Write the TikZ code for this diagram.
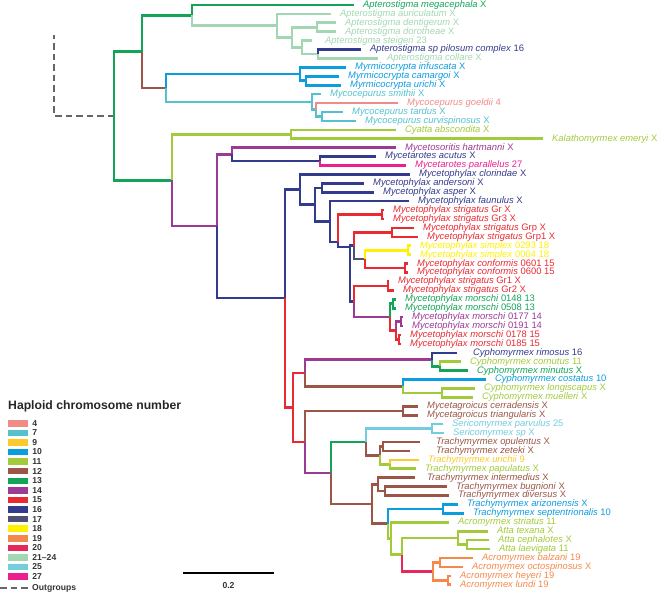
\documentclass[tikz,border=0pt]{standalone}
\usepackage{fontspec}
\setmainfont{Liberation Sans}
\usepackage{xcolor}
\usetikzlibrary{positioning}

\definecolor{c4}{HTML}{F08C87}
\definecolor{c7}{HTML}{55C1CE}
\definecolor{c9}{HTML}{FDC92C}
\definecolor{c10}{HTML}{0C9DDD}
\definecolor{c11}{HTML}{A2CB3C}
\definecolor{c12}{HTML}{9B5647}
\definecolor{c13}{HTML}{14A458}
\definecolor{c14}{HTML}{9C3A94}
\definecolor{c15}{HTML}{EA2A33}
\definecolor{c16}{HTML}{333B8C}
\definecolor{c17}{HTML}{505170}
\definecolor{c18}{HTML}{FFF100}
\definecolor{c19}{HTML}{F5894C}
\definecolor{c20}{HTML}{E4295A}
\definecolor{c21}{HTML}{A3D7B3}
\definecolor{c25}{HTML}{74CCDF}
\definecolor{c27}{HTML}{EC1F8E}
\definecolor{outg}{HTML}{666666}

\newcommand{\taxa}[2]{\textit{#1} #2}

\tikzset{
  br/.style={line width=2.6pt},
  lab/.style={anchor=west, xshift=-9pt, inner xsep=9pt, inner ysep=0pt,
    text height=6.7pt, text depth=1.9pt, font=\fontsize{9.4}{10}\selectfont},
  outgrp/.style={outg, line width=2.8pt, dash pattern=on 6.5pt off 4pt},
  swatch/.style={fill=#1, minimum width=20pt, minimum height=6.5pt, inner sep=0pt},
  keytext/.style={anchor=west, inner sep=0pt, text=black!80, font=\bfseries\fontsize{8.6}{9}\selectfont},
}

\begin{document}
\begin{tikzpicture}[x=1pt, y=-1pt]
\useasboundingbox (0,0) rectangle (657,593);

% inner nodes of the tree
\coordinate (root) at (114,116);
\coordinate (og) at (54,35);
\coordinate (apmy) at (142,51.7);
\coordinate (core) at (172,180.3);
\coordinate (apter) at (192,15.3);
\coordinate (myco) at (166,88);
\coordinate (ap1) at (277,25.6);
\coordinate (ap2) at (292,37.3);
\coordinate (ap3) at (317,27.3);
\coordinate (ap4) at (302,47.4);
\coordinate (ap5) at (318,54.1);
\coordinate (myrm) at (300,74.1);
\coordinate (myrm2) at (306,80.8);
\coordinate (mcep) at (312,102);
\coordinate (mcep2) at (316,109.8);
\coordinate (mcep3) at (322,116.5);
\coordinate (cyka) at (291,134.3);
\coordinate (neo) at (217,226.2);
\coordinate (myso) at (232,154.4);
\coordinate (mrot) at (320,161.1);
\coordinate (big) at (285,298);
\coordinate (mphy) at (300,189.6);
\coordinate (mphy2) at (315,204.8);
\coordinate (mphy3) at (322,187.9);
\coordinate (mphy4) at (330,221.6);
\coordinate (mphy5) at (338,242);
\coordinate (strig1) at (382,214.6);
\coordinate (mphy6) at (350,247);
\coordinate (mphy7) at (354,245.8);
\coordinate (strig2) at (392,232.5);
\coordinate (simco) at (365,259.2);
\coordinate (simp) at (408,250.3);
\coordinate (conf) at (405,268.1);
\coordinate (mphy8) at (354,301.6);
\coordinate (strig3) at (388,286);
\coordinate (mors) at (390,317.2);
\coordinate (mors1) at (393,303.8);
\coordinate (mors2) at (396,330.6);
\coordinate (mors3) at (401,321.7);
\coordinate (mors4) at (399,339.5);
\coordinate (high) at (293,407.5);
\coordinate (cyph) at (305,373);
\coordinate (cyph1) at (432,359.6);
\coordinate (cyph2) at (440,366.3);
\coordinate (cyph3) at (403,386.3);
\coordinate (cyph4) at (442,393);
\coordinate (hga) at (305,442);
\coordinate (magr) at (403,410.9);
\coordinate (hgb) at (331,473.1);
\coordinate (seri) at (366,442.1);
\coordinate (seri1) at (432,428.7);
\coordinate (trach1) at (380,455.5);
\coordinate (trach2) at (383,446.5);
\coordinate (trach3) at (390,464.4);
\coordinate (lca) at (372,504.1);
\coordinate (trach4) at (378,484.5);
\coordinate (trach5) at (385,491.1);
\coordinate (lcb) at (388,523.8);
\coordinate (trach6) at (443,509);
\coordinate (lcc) at (391,538.5);
\coordinate (lcd) at (402,554.7);
\coordinate (atta) at (458,538);
\coordinate (atta1) at (467,544.7);
\coordinate (acro) at (433,571.4);
\coordinate (acro1) at (440,562.5);
\coordinate (acro2) at (448,580.3);

% tips
\node[lab, text=c13] (megacephala) at (363,5.0) {\taxa{Apterostigma megacephala}{X}};
\node[lab, text=c21] (auriculatum) at (340,13.9) {\taxa{Apterostigma auriculatum}{X}};
\node[lab, text=c21] (dentigerum) at (345,22.8) {\taxa{Apterostigma dentigerum}{X}};
\node[lab, text=c21] (dorotheae) at (345,31.8) {\taxa{Apterostigma dorotheae}{X}};
\node[lab, text=c21] (steigeri) at (325,40.7) {\taxa{Apterostigma steigeri}{23}};
\node[lab, text=c16] (pilosum) at (370,49.6) {\taxa{Apterostigma sp pilosum complex}{16}};
\node[lab, text=c21] (collare) at (387,58.5) {\taxa{Apterostigma collare}{X}};
\node[lab, text=c10] (infuscata) at (355,67.4) {\taxa{Myrmicocrypta infuscata}{X}};
\node[lab, text=c10] (camargoi) at (348,76.4) {\taxa{Myrmicocrypta camargoi}{X}};
\node[lab, text=c10] (urichi) at (350,85.3) {\taxa{Myrmicocrypta urichi}{X}};
\node[lab, text=c7] (smithii) at (330,94.2) {\taxa{Mycocepurus smithii}{X}};
\node[lab, text=c4] (goeldii) at (407,103.1) {\taxa{Mycocepurus goeldii}{4}};
\node[lab, text=c7] (tardus) at (352,112.0) {\taxa{Mycocepurus tardus}{X}};
\node[lab, text=c7] (curvispinosus) at (365,121.0) {\taxa{Mycocepurus curvispinosus}{X}};
\node[lab, text=c11] (abscondita) at (405,129.9) {\taxa{Cyatta abscondita}{X}};
\node[lab, text=c11] (emeryi) at (552,138.8) {\taxa{Kalathomyrmex emeryi}{X}};
\node[lab, text=c14] (hartmanni) at (405,147.7) {\taxa{Mycetosoritis hartmanni}{X}};
\node[lab, text=c16] (acutus) at (385,156.6) {\taxa{Mycetarotes acutus}{X}};
\node[lab, text=c27] (parallelus) at (415,165.6) {\taxa{Mycetarotes parallelus}{27}};
\node[lab, text=c16] (clorindae) at (419,174.5) {\taxa{Mycetophylax clorindae}{X}};
\node[lab, text=c16] (andersoni) at (373,183.4) {\taxa{Mycetophylax andersoni}{X}};
\node[lab, text=c16] (asper) at (383,192.3) {\taxa{Mycetophylax asper}{X}};
\node[lab, text=c16] (faunulus) at (418,201.2) {\taxa{Mycetophylax faunulus}{X}};
\node[lab, text=c15] (strGr) at (393,210.2) {\taxa{Mycetophylax strigatus}{Gr X}};
\node[lab, text=c15] (strGrIII) at (393,219.1) {\taxa{Mycetophylax strigatus}{Gr3 X}};
\node[lab, text=c15] (strGrp) at (423,228.0) {\taxa{Mycetophylax strigatus}{Grp X}};
\node[lab, text=c15] (strGrpI) at (427,236.9) {\taxa{Mycetophylax strigatus}{Grp1 X}};
\node[lab, text=c18] (simA) at (420,245.8) {\taxa{Mycetophylax simplex}{0293 18}};
\node[lab, text=c18] (simB) at (420,254.8) {\taxa{Mycetophylax simplex}{0004 18}};
\node[lab, text=c15] (confA) at (417,263.7) {\taxa{Mycetophylax conformis}{0601 15}};
\node[lab, text=c15] (confB) at (417,272.6) {\taxa{Mycetophylax conformis}{0600 15}};
\node[lab, text=c15] (strGrI) at (398,281.5) {\taxa{Mycetophylax strigatus}{Gr1 X}};
\node[lab, text=c15] (strGrII) at (403,290.4) {\taxa{Mycetophylax strigatus}{Gr2 X}};
\node[lab, text=c13] (morA) at (405,299.4) {\taxa{Mycetophylax morschi}{0148 13}};
\node[lab, text=c13] (morB) at (405,308.3) {\taxa{Mycetophylax morschi}{0508 13}};
\node[lab, text=c14] (morC) at (412,317.2) {\taxa{Mycetophylax morschi}{0177 14}};
\node[lab, text=c14] (morD) at (412,326.1) {\taxa{Mycetophylax morschi}{0191 14}};
\node[lab, text=c15] (morE) at (410,335.0) {\taxa{Mycetophylax morschi}{0178 15}};
\node[lab, text=c15] (morF) at (410,344.0) {\taxa{Mycetophylax morschi}{0185 15}};
\node[lab, text=c16] (rimosus) at (473,352.9) {\taxa{Cyphomyrmex rimosus}{16}};
\node[lab, text=c11] (cornutus) at (470,361.8) {\taxa{Cyphomyrmex cornutus}{11}};
\node[lab, text=c13] (minutus) at (477,370.7) {\taxa{Cyphomyrmex minutus}{X}};
\node[lab, text=c10] (costatus) at (495,379.6) {\taxa{Cyphomyrmex costatus}{10}};
\node[lab, text=c11] (longiscapus) at (484,388.6) {\taxa{Cyphomyrmex longiscapus}{X}};
\node[lab, text=c11] (muelleri) at (482,397.5) {\taxa{Cyphomyrmex muelleri}{X}};
\node[lab, text=c12] (cerradensis) at (427,406.4) {\taxa{Mycetagroicus cerradensis}{X}};
\node[lab, text=c12] (triangularis) at (427,415.3) {\taxa{Mycetagroicus triangularis}{X}};
\node[lab, text=c25] (parvulus) at (452,424.2) {\taxa{Sericomyrmex parvulus}{25}};
\node[lab, text=c25] (serisp) at (453,433.2) {\taxa{Sericomyrmex sp}{X}};
\node[lab, text=c12] (opulentus) at (436,442.1) {\taxa{Trachymyrmex opulentus}{X}};
\node[lab, text=c12] (zeteki) at (436,451.0) {\taxa{Trachymyrmex zeteki}{X}};
\node[lab, text=c9] (urichii) at (428,459.9) {\taxa{Trachymyrmex urichii}{9}};
\node[lab, text=c11] (papulatus) at (425,468.8) {\taxa{Trachymyrmex papulatus}{X}};
\node[lab, text=c12] (intermedius) at (427,477.8) {\taxa{Trachymyrmex intermedius}{X}};
\node[lab, text=c12] (bugnioni) at (456,486.7) {\taxa{Trachymyrmex bugnioni}{X}};
\node[lab, text=c12] (diversus) at (458,495.6) {\taxa{Trachymyrmex diversus}{X}};
\node[lab, text=c10] (arizonensis) at (467,504.5) {\taxa{Trachymyrmex arizonensis}{X}};
\node[lab, text=c10] (septentrionalis) at (473,513.4) {\taxa{Trachymyrmex septentrionalis}{10}};
\node[lab, text=c11] (striatus) at (458,522.4) {\taxa{Acromyrmex striatus}{11}};
\node[lab, text=c11] (texana) at (497,531.3) {\taxa{Atta texana}{X}};
\node[lab, text=c11] (cephalotes) at (498,540.2) {\taxa{Atta cephalotes}{X}};
\node[lab, text=c11] (laevigata) at (499,549.1) {\taxa{Atta laevigata}{11}};
\node[lab, text=c19] (balzani) at (482,558.0) {\taxa{Acromyrmex balzani}{19}};
\node[lab, text=c19] (octospinosus) at (472,567.0) {\taxa{Acromyrmex octospinosus}{X}};
\node[lab, text=c19] (heyeri) at (460,575.9) {\taxa{Acromyrmex heyeri}{19}};
\node[lab, text=c19] (lundi) at (460,584.8) {\taxa{Acromyrmex lundi}{19}};

% branches
\draw[outgrp] (root) -| (og);
\draw[br, c13] (root) |- (apmy);
\draw[br, c13] (root) |- (core);
\draw[br, c13] (apmy) |- (apter);
\draw[br, c12] (apmy) |- (myco);
\draw[br, c13] (apter) |- (megacephala.west);
\draw[br, c21] (apter) |- (ap1);
\draw[br, c21] (ap1) |- (auriculatum.west);
\draw[br, c21] (ap1) |- (ap2);
\draw[br, c21] (ap2) |- (ap3);
\draw[br, c21] (ap2) |- (ap4);
\draw[br, c21] (ap3) |- (dentigerum.west);
\draw[br, c21] (ap3) |- (dorotheae.west);
\draw[br, c21, shorten >=4pt] (ap4) |- (steigeri.west);
\draw[br, c21] (ap4) |- (ap5);
\draw[br, c16] (ap5) |- (pilosum.west);
\draw[br, c21] (ap5) |- (collare.west);
\draw[br, c10] (myco) |- (myrm);
\draw[br, c7] (myco) |- (mcep);
\draw[br, c10] (myrm) |- (infuscata.west);
\draw[br, c10] (myrm) |- (myrm2);
\draw[br, c10] (myrm2) |- (camargoi.west);
\draw[br, c10] (myrm2) |- (urichi.west);
\draw[br, c7] (mcep) |- (smithii.west);
\draw[br, c7] (mcep) |- (mcep2);
\draw[br, c4] (mcep2) |- (goeldii.west);
\draw[br, c7] (mcep2) |- (mcep3);
\draw[br, c7] (mcep3) |- (tardus.west);
\draw[br, c7] (mcep3) |- (curvispinosus.west);
\draw[br, c11] (core) |- (cyka);
\draw[br, c14] (core) |- (neo);
\draw[br, c11] (cyka) |- (abscondita.west);
\draw[br, c11] (cyka) |- (emeryi.west);
\draw[br, c14] (neo) |- (myso);
\draw[br, c16] (neo) |- (big);
\draw[br, c14] (myso) |- (hartmanni.west);
\draw[br, c16] (myso) |- (mrot);
\draw[br, c16] (mrot) |- (acutus.west);
\draw[br, c27] (mrot) |- (parallelus.west);
\draw[br, c16] (big) |- (mphy);
\draw[br, c15] (big) |- (high);
\draw[br, c16] (mphy) |- (clorindae.west);
\draw[br, c16] (mphy) |- (mphy2);
\draw[br, c16] (mphy2) |- (mphy3);
\draw[br, c16] (mphy2) |- (mphy4);
\draw[br, c16] (mphy3) |- (andersoni.west);
\draw[br, c16] (mphy3) |- (asper.west);
\draw[br, c16] (mphy4) |- (faunulus.west);
\draw[br, c16] (mphy4) |- (mphy5);
\draw[br, c15] (mphy5) |- (strig1);
\draw[br, c16] (mphy5) |- (mphy6);
\draw[br, c15] (strig1) |- (strGr.west);
\draw[br, c15] (strig1) |- (strGrIII.west);
\draw[br, c16] (mphy6) |- (mphy7);
\draw[br, c16] (mphy6) |- (mphy8);
\draw[br, c15] (mphy7) |- (strig2);
\draw[br, c17] (mphy7) |- (simco);
\draw[br, c15] (strig2) |- (strGrp.west);
\draw[br, c15] (strig2) |- (strGrpI.west);
\draw[br, c18] (simco) |- (simp);
\draw[br, c15] (simco) |- (conf);
\draw[br, c18] (simp) |- (simA.west);
\draw[br, c18] (simp) |- (simB.west);
\draw[br, c15] (conf) |- (confA.west);
\draw[br, c15] (conf) |- (confB.west);
\draw[br, c15] (mphy8) |- (strig3);
\draw[br, c14] (mphy8) |- (mors);
\draw[br, c15] (strig3) |- (strGrI.west);
\draw[br, c15] (strig3) |- (strGrII.west);
\draw[br, c13] (mors) |- (mors1);
\draw[br, c15] (mors) |- (mors2);
\draw[br, c13] (mors1) |- (morA.west);
\draw[br, c13] (mors1) |- (morB.west);
\draw[br, c14] (mors2) |- (mors3);
\draw[br, c15] (mors2) |- (mors4);
\draw[br, c14] (mors3) |- (morC.west);
\draw[br, c14] (mors3) |- (morD.west);
\draw[br, c15] (mors4) |- (morE.west);
\draw[br, c15] (mors4) |- (morF.west);
\draw[br, c15] (high) |- (cyph);
\draw[br, c15] (high) |- (hga);
\draw[br, c14] (cyph) |- (cyph1);
\draw[br, c12] (cyph) |- (cyph3);
\draw[br, c16, shorten >=7pt] (cyph1) |- (rimosus.west);
\draw[br, c13] (cyph1) |- (cyph2);
\draw[br, c11] (cyph2) |- (cornutus.west);
\draw[br, c13] (cyph2) |- (minutus.west);
\draw[br, c10] (cyph3) |- (costatus.west);
\draw[br, c11] (cyph3) |- (cyph4);
\draw[br, c11] (cyph4) |- (longiscapus.west);
\draw[br, c11] (cyph4) |- (muelleri.west);
\draw[br, c12] (hga) |- (magr);
\draw[br, c14] (hga) |- (hgb);
\draw[br, c12] (magr) |- (cerradensis.west);
\draw[br, c12] (magr) |- (triangularis.west);
\draw[br, c13] (hgb) |- (seri);
\draw[br, c12] (hgb) |- (lca);
\draw[br, c25] (seri) |- (seri1);
\draw[br, c12] (seri) |- (trach1);
\draw[br, c25] (seri1) |- (parvulus.west);
\draw[br, c25] (seri1) |- (serisp.west);
\draw[br, c12] (trach1) |- (trach2);
\draw[br, c11] (trach1) |- (trach3);
\draw[br, c12, shorten >=7pt] (trach2) |- (opulentus.west);
\draw[br, c12, shorten >=17pt] (trach2) |- (zeteki.west);
\draw[br, c9] (trach3) |- (urichii.west);
\draw[br, c11] (trach3) |- (papulatus.west);
\draw[br, c12] (lca) |- (trach4);
\draw[br, c12] (lca) |- (lcb);
\draw[br, c12, shorten >=3pt] (trach4) |- (intermedius.west);
\draw[br, c12] (trach4) |- (trach5);
\draw[br, c12] (trach5) |- (bugnioni.west);
\draw[br, c12] (trach5) |- (diversus.west);
\draw[br, c10] (lcb) |- (trach6);
\draw[br, c11] (lcb) |- (lcc);
\draw[br, c10] (trach6) |- (arizonensis.west);
\draw[br, c10] (trach6) |- (septentrionalis.west);
\draw[br, c11] (lcc) |- (striatus.west);
\draw[br, c11] (lcc) |- (lcd);
\draw[br, c11] (lcd) |- (atta);
\draw[br, c20] (lcd) |- (acro);
\draw[br, c11] (atta) |- (texana.west);
\draw[br, c11] (atta) |- (atta1);
\draw[br, c11] (atta1) |- (cephalotes.west);
\draw[br, c11] (atta1) |- (laevigata.west);
\draw[br, c19] (acro) |- (acro1);
\draw[br, c19] (acro) |- (acro2);
\draw[br, c19] (acro1) |- (balzani.west);
\draw[br, c19] (acro1) |- (octospinosus.west);
\draw[br, c19] (acro2) |- (heyeri.west);
\draw[br, c19] (acro2) |- (lundi.west);

% legend
\node[anchor=west, inner sep=0pt, text=black!85, font=\bfseries\fontsize{12.2}{13}\selectfont] (title) at (8,406) {Haploid chromosome number};
\node[swatch=c4] (k4) at (18,423.3) {};
\node[keytext, right=4pt of k4] {4};
\node[swatch=c7] (k7) at (18,432.9) {};
\node[keytext, right=4pt of k7] {7};
\node[swatch=c9] (k9) at (18,442.5) {};
\node[keytext, right=4pt of k9] {9};
\node[swatch=c10] (k10) at (18,452.0) {};
\node[keytext, right=4pt of k10] {10};
\node[swatch=c11] (k11) at (18,461.6) {};
\node[keytext, right=4pt of k11] {11};
\node[swatch=c12] (k12) at (18,471.2) {};
\node[keytext, right=4pt of k12] {12};
\node[swatch=c13] (k13) at (18,480.8) {};
\node[keytext, right=4pt of k13] {13};
\node[swatch=c14] (k14) at (18,490.4) {};
\node[keytext, right=4pt of k14] {14};
\node[swatch=c15] (k15) at (18,499.9) {};
\node[keytext, right=4pt of k15] {15};
\node[swatch=c16] (k16) at (18,509.5) {};
\node[keytext, right=4pt of k16] {16};
\node[swatch=c17] (k17) at (18,519.1) {};
\node[keytext, right=4pt of k17] {17};
\node[swatch=c18] (k18) at (18,528.7) {};
\node[keytext, right=4pt of k18] {18};
\node[swatch=c19] (k19) at (18,538.3) {};
\node[keytext, right=4pt of k19] {19};
\node[swatch=c20] (k20) at (18,547.8) {};
\node[keytext, right=4pt of k20] {20};
\node[swatch=c21] (k21) at (18,557.4) {};
\node[keytext, right=4pt of k21] {21--24};
\node[swatch=c25] (k25) at (18,567.0) {};
\node[keytext, right=4pt of k25] {25};
\node[swatch=c27] (k27) at (18,576.6) {};
\node[keytext, right=4pt of k27] {27};
\coordinate (okl) at (0,588);
\coordinate (okr) at (28,588);
\draw[outgrp] (okl) -- (okr);
\node[keytext, right=4pt of okr] {Outgroups};

% scale bar
\coordinate (sbl) at (183,573);
\coordinate (sbr) at (274,573);
\draw[line width=1.3pt] (sbl) -- (sbr);
\node[keytext, anchor=center] (sbtxt) at (228.5,585.5) {0.2};
\end{tikzpicture}
\end{document}
